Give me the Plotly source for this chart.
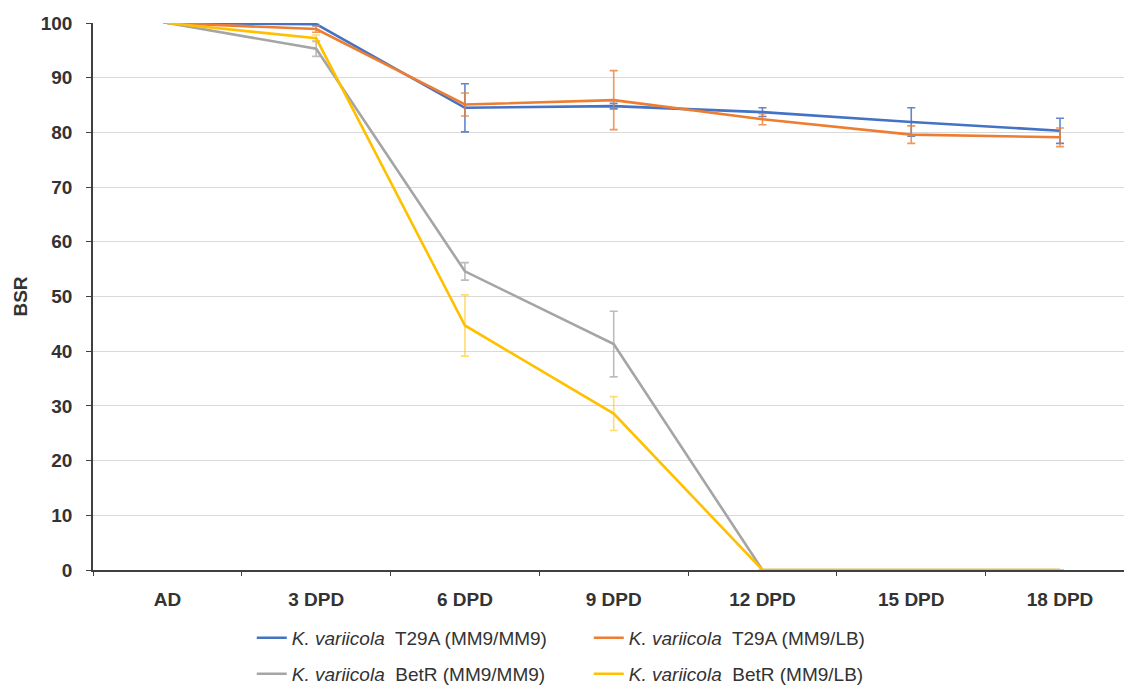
import plotly.graph_objects as go

categories = ["AD", "3 DPD", "6 DPD", "9 DPD", "12 DPD", "15 DPD", "18 DPD"]

t29a_mm9_mm9 = [100, 99.8, 84.5, 84.8, 83.7, 81.9, 80.3]
t29a_mm9_mm9_err = [0, 0.3, 4.4, 0.5, 0.8, 2.6, 2.3]

t29a_mm9_lb = [100, 98.9, 85.1, 85.9, 82.4, 79.6, 79.1]
t29a_mm9_lb_err = [0, 0.6, 2.1, 5.4, 1.0, 1.6, 1.7]

betr_mm9_mm9 = [100, 95.3, 54.6, 41.3, 0, 0, 0]
betr_mm9_mm9_err = [0, 1.4, 1.6, 6.0, 0, 0, 0]

betr_mm9_lb = [100, 97.2, 44.7, 28.6, 0, 0, 0]
betr_mm9_lb_err = [0, 0.6, 5.6, 3.1, 0, 0, 0]

series = [
    ("<i>K. variicola</i>  T29A (MM9/MM9)", t29a_mm9_mm9, t29a_mm9_mm9_err, "#4472C4", "rgba(68,114,196,0.85)", "legend"),
    ("<i>K. variicola</i>  T29A (MM9/LB)", t29a_mm9_lb, t29a_mm9_lb_err, "#ED7D31", "rgba(237,125,49,0.8)", "legend"),
    ("<i>K. variicola</i>  BetR (MM9/MM9)", betr_mm9_mm9, betr_mm9_mm9_err, "#A5A5A5", "rgba(165,165,165,0.75)", "legend2"),
    ("<i>K. variicola</i>  BetR (MM9/LB)", betr_mm9_lb, betr_mm9_lb_err, "#FFC000", "rgba(255,192,0,0.55)", "legend2"),
]

fig = go.Figure()
for name, vals, errs, col, ecol, lg in series:
    fig.add_trace(go.Scatter(
        x=categories, y=vals, name=name, mode="lines",
        line=dict(color=col, width=2.6),
        error_y=dict(type="data", array=errs, visible=True, color=ecol, thickness=1.6, width=4),
        cliponaxis=False, legend=lg,
    ))

font_main = "Liberation Sans, Arial, sans-serif"
text_col = "#333333"

legend_common = dict(
    orientation="h", xanchor="left", yanchor="middle",
    entrywidth=292, entrywidthmode="pixels",
    font=dict(size=19, family=font_main, color=text_col),
    bgcolor="rgba(0,0,0,0)", traceorder="normal",
)

fig.update_layout(
    width=1124, height=686,
    margin=dict(l=93, r=0, t=23, b=116, autoexpand=False),
    paper_bgcolor="white", plot_bgcolor="white",
    font=dict(family=font_main, color=text_col),
    xaxis=dict(
        type="category", range=[-0.5, 6.43],
        showline=True, linecolor="#404040", linewidth=1.5,
        ticks="outside", tickson="boundaries", ticklen=4, tickcolor="#404040",
        showgrid=False, layer="below traces",
        tickfont=dict(size=19, family=font_main, color=text_col, weight="bold"),
        ticklabelstandoff=11,
    ),
    yaxis=dict(
        range=[0, 100], tickvals=list(range(0, 101, 10)),
        showline=True, linecolor="#404040", linewidth=1.5,
        ticks="outside", ticklen=5, tickcolor="#404040",
        showgrid=True, gridcolor="#D9D9D9", gridwidth=1.2,
        zeroline=False, layer="below traces",
        tickfont=dict(size=19, family=font_main, color=text_col, weight="bold"),
        ticklabelstandoff=10,
        title=dict(text="<b>BSR</b>", font=dict(size=19, family=font_main, color=text_col), standoff=8),
    ),
    legend=dict(x=0.154, y=-0.124, **legend_common),
    legend2=dict(x=0.154, y=-0.19, **legend_common),
    showlegend=True,
)

fig.write_html("out.html")
